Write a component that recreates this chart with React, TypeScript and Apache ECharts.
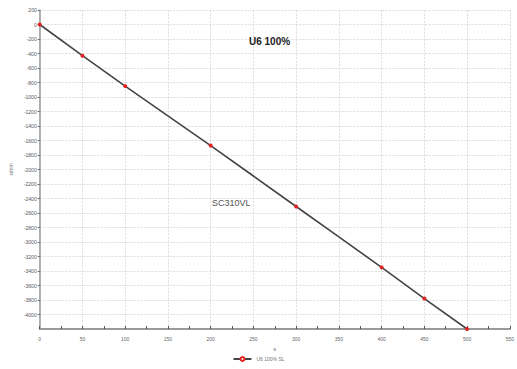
import React, { useEffect, useRef } from "react";
import * as echarts from "echarts";

const xValues = [0, 50, 100, 150, 200, 250, 300, 350, 400, 450, 500];
const yValues = [0, -430, -850, -1260, -1670, -2090, -2510, -2930, -3350, -3780, -4200];
const markerAt = [true, true, true, false, true, false, true, false, true, true, true];
const seriesName = "U6 100% SL";
const titleText = "U6 100%";
const noteText = "SC310VL";

export default function App() {
  const ref = useRef<HTMLDivElement>(null);
  useEffect(() => {
    if (!ref.current) return;
    const chart = echarts.init(ref.current, null, { renderer: "svg" });
    const data = xValues.map((x, i) => ({
      value: [x, yValues[i]],
      symbol: markerAt[i] ? "circle" : "none",
      symbolSize: 4,
    }));
    chart.setOption({
      animation: false,
      backgroundColor: "#fff",
      textStyle: { fontFamily: "Liberation Sans" },
      grid: { left: 31, right: 3, top: 10, bottom: 40 },
      title: [
        {
          text: titleText,
          left: 244,
          top: 31,
          textStyle: { fontSize: 10, fontWeight: "bold", color: "#222" },
        },
      ],
      graphic: [
        {
          type: "text",
          left: 212,
          top: 198,
          style: { text: noteText, fontSize: 9, fill: "#555", fontFamily: "Liberation Sans" },
        },
      ],
      legend: {
        bottom: 2,
        left: "center",
        itemWidth: 18,
        itemHeight: 5,
        textStyle: { fontSize: 5, color: "#777" },
        itemStyle: { color: "#e52020", borderColor: "#e52020" },
        data: [{ name: seriesName }],
      },
      xAxis: {
        type: "value",
        min: 0,
        max: 550,
        interval: 50,
        name: "s",
        nameLocation: "middle",
        nameGap: 16,
        nameTextStyle: { fontSize: 6, color: "#777" },
        axisLine: { onZero: false, lineStyle: { color: "#999", width: 2 } },
        axisTick: { show: true, inside: true, length: 3, lineStyle: { color: "#555" } },
        minorTick: { show: true, splitNumber: 2, length: 3, lineStyle: { color: "#555" } },
        axisLabel: { fontSize: 5, color: "#666", margin: 7 },
        splitLine: { show: true, lineStyle: { color: "#ccc", type: "dashed", width: 0.6 } },
      },
      yAxis: {
        type: "value",
        min: -4200,
        max: 200,
        interval: 200,
        name: "s/mm",
        nameLocation: "middle",
        nameGap: 21,
        nameRotate: 90,
        nameTextStyle: { fontSize: 5, color: "#777" },
        axisLine: { show: true, lineStyle: { color: "#999", width: 1.5 } },
        axisTick: { show: true, length: 2, lineStyle: { color: "#666" } },
        axisLabel: {
          fontSize: 5,
          color: "#555",
          margin: 3,
          showMinLabel: false,
          formatter: (v: number) => String(v),
        },
        splitLine: { show: true, lineStyle: { color: "#ccc", type: "dashed", width: 0.6 } },
      },
      series: [
        {
          name: seriesName,
          type: "line",
          data,
          showSymbol: true,
          lineStyle: { color: "#444", width: 1.6 },
          itemStyle: { color: "#e52020" },
        },
      ],
    });
    return () => chart.dispose();
  }, []);
  return <div ref={ref} style={{ width: 517, height: 369, position: "absolute", left: 0, top: 0 }} />;
}
